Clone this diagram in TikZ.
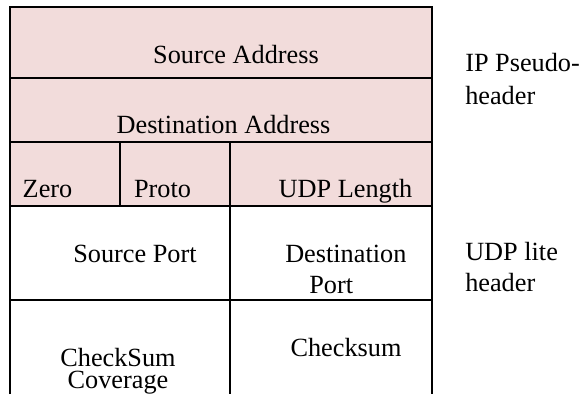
\documentclass[tikz,border=0pt]{standalone}
\usepackage{fontspec}
\setmainfont{Liberation Serif}
\definecolor{pseudo}{HTML}{F2DCDB}

\begin{document}
\begin{tikzpicture}[x=0.75pt,y=-0.75pt,
	field/.style={font=\fontsize{19.7}{23.25}\selectfont,inner sep=0pt,anchor=base},
	side/.style={field,anchor=base west,align=left},
	rule/.style={line width=1.5pt}]
	\useasboundingbox (0,0) rectangle (582,394);
	% pseudo-header rows
	\fill[pseudo] (10,7) rectangle (432,206);
	\draw[rule] (10,394) -- (10,7) -- (432,7) -- (432,394);
	\draw[rule] (10,78) -- (432,78);
	\draw[rule] (10,142) -- (432,142);
	\draw[rule] (10,206) -- (432,206);
	\draw[rule] (10,300) -- (432,300);
	\draw[rule] (120,142) -- (120,206);
	\draw[rule] (230,142) -- (230,394);

	\node[field](srcaddr) at (236,63) {Source Address};
	\node[field](dstaddr) at (223.5,133) {Destination Address};
	\node[field](zero) at (47.5,197) {Zero};
	\node[field](proto) at (162.5,197) {Proto};
	\node[field](udplen) at (345.5,197) {UDP Length};
	% UDP lite rows
	\node[field](srcport) at (135,262) {Source Port};
	\node[field,anchor=base west,align=left](dstport) at (285,293)
		{Destination\\\hspace{18pt}Port};
	\node[field,align=center](cov) at (118,388) {CheckSum\\[-6.75pt]Coverage};
	\node[field](csum) at (346,356) {Checksum};

	\node[side](ip) at (465,104) {IP Pseudo-\\[1.5pt]header};
	\node[side](udp) at (465,291) {UDP lite\\header};
\end{tikzpicture}
\end{document}
